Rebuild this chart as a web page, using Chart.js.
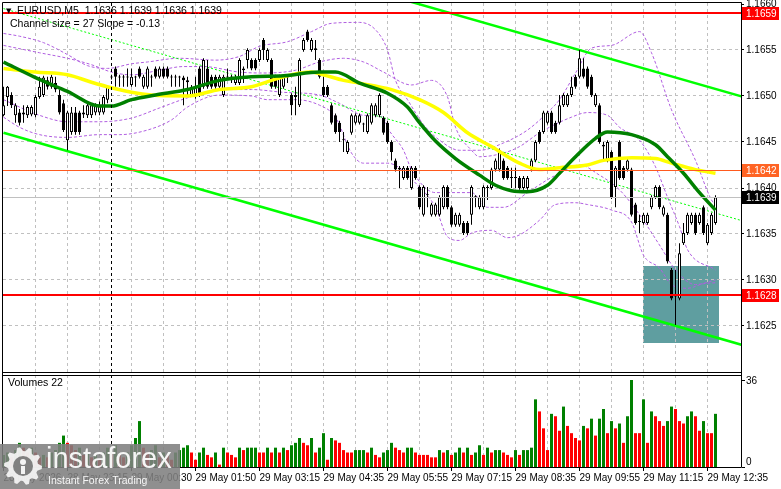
<!DOCTYPE html>
<html>
<head>
<meta charset="utf-8">
<script src="https://cdn.jsdelivr.net/npm/chart.js@4.4.1/dist/chart.umd.min.js"></script>
<style>
  html, body { margin: 0; padding: 0; background: #fff; overflow: hidden; }
  #wrap { position: relative; width: 781px; height: 489px; }
</style>
</head>
<body>
<div id="wrap"><canvas id="chart" width="781" height="489"></canvas></div>
<script>
// EURUSD M5 candles, 179 bars
const opens = [
  1.16479,1.16499,1.16501,1.16479,1.16482,1.16480,1.16479,1.16480,1.16479,1.16499,
  1.16501,1.16517,1.16510,1.16514,1.16501,1.16492,1.16452,1.16461,1.16482,1.16482,
  1.16480,1.16479,1.16479,1.16482,1.16482,1.16482,1.16496,1.16521,1.16530,1.16520,
  1.16521,1.16520,1.16512,1.16521,1.16530,1.16510,1.16510,1.16521,1.16530,1.16521,
  1.16530,1.16530,1.16521,1.16520,1.16521,1.16520,1.16517,1.16501,1.16501,1.16530,
  1.16510,1.16530,1.16521,1.16521,1.16510,1.16501,1.16521,1.16520,1.16514,1.16514,
  1.16530,1.16539,1.16539,1.16539,1.16539,1.16561,1.16539,1.16539,1.16521,1.16501,
  1.16510,1.16520,1.16501,1.16501,1.16490,1.16550,1.16570,1.16550,1.16552,1.16539,
  1.16510,1.16510,1.16490,1.16479,1.16471,1.16453,1.16439,1.16460,1.16471,1.16471,
  1.16470,1.16461,1.16471,1.16479,1.16479,1.16476,1.16471,1.16450,1.16430,1.16422,
  1.16411,1.16422,1.16400,1.16422,1.16401,1.16371,1.16393,1.16371,1.16371,1.16371,
  1.16379,1.16401,1.16379,1.16360,1.16360,1.16362,1.16362,1.16371,1.16391,1.16379,
  1.16379,1.16400,1.16400,1.16420,1.16420,1.16430,1.16422,1.16412,1.16411,1.16411,
  1.16400,1.16400,1.16420,1.16430,1.16461,1.16461,1.16471,1.16482,1.16471,1.16471,
  1.16490,1.16490,1.16501,1.16521,1.16521,1.16530,1.16530,1.16521,1.16490,1.16490,
  1.16447,1.16430,1.16439,1.16401,1.16450,1.16422,1.16420,1.16420,1.16382,1.16364,
  1.16362,1.16362,1.16379,1.16390,1.16401,1.16371,1.16371,1.16311,1.16284,1.16280,
  1.16340,1.16351,1.16362,1.16371,1.16362,1.16379,1.16340,1.16351,1.16362
];
const highs = [
  1.16510,1.16511,1.16504,1.16492,1.16486,1.16490,1.16490,1.16490,1.16501,1.16521,
  1.16522,1.16521,1.16523,1.16521,1.16507,1.16496,1.16484,1.16488,1.16488,1.16484,
  1.16490,1.16492,1.16492,1.16492,1.16494,1.16501,1.16512,1.16523,1.16532,1.16523,
  1.16523,1.16530,1.16530,1.16522,1.16532,1.16523,1.16532,1.16523,1.16532,1.16532,
  1.16532,1.16532,1.16523,1.16523,1.16522,1.16522,1.16521,1.16512,1.16521,1.16532,
  1.16541,1.16539,1.16523,1.16523,1.16523,1.16523,1.16530,1.16523,1.16523,1.16541,
  1.16532,1.16552,1.16541,1.16541,1.16552,1.16563,1.16552,1.16541,1.16523,1.16523,
  1.16523,1.16523,1.16503,1.16510,1.16541,1.16563,1.16572,1.16563,1.16561,1.16541,
  1.16521,1.16512,1.16492,1.16481,1.16473,1.16461,1.16452,1.16481,1.16481,1.16481,
  1.16471,1.16481,1.16492,1.16492,1.16503,1.16478,1.16473,1.16452,1.16432,1.16424,
  1.16424,1.16424,1.16424,1.16424,1.16403,1.16403,1.16401,1.16384,1.16384,1.16392,
  1.16403,1.16403,1.16381,1.16373,1.16373,1.16364,1.16364,1.16403,1.16392,1.16392,
  1.16403,1.16403,1.16422,1.16432,1.16443,1.16432,1.16424,1.16422,1.16422,1.16413,
  1.16413,1.16413,1.16432,1.16452,1.16463,1.16484,1.16484,1.16484,1.16473,1.16501,
  1.16503,1.16503,1.16521,1.16523,1.16550,1.16541,1.16532,1.16523,1.16503,1.16492,
  1.16450,1.16452,1.16441,1.16424,1.16452,1.16424,1.16432,1.16422,1.16384,1.16371,
  1.16373,1.16373,1.16392,1.16403,1.16403,1.16381,1.16373,1.16313,1.16311,1.16340,
  1.16362,1.16373,1.16373,1.16373,1.16373,1.16381,1.16362,1.16373,1.16392
];
const lows = [
  1.16478,1.16489,1.16487,1.16471,1.16468,1.16471,1.16476,1.16478,1.16477,1.16497,
  1.16499,1.16507,1.16508,1.16504,1.16480,1.16461,1.16441,1.16458,1.16458,1.16458,
  1.16476,1.16476,1.16476,1.16479,1.16479,1.16480,1.16492,1.16518,1.16510,1.16510,
  1.16510,1.16510,1.16510,1.16510,1.16519,1.16508,1.16508,1.16510,1.16519,1.16519,
  1.16519,1.16519,1.16510,1.16510,1.16510,1.16490,1.16499,1.16499,1.16497,1.16499,
  1.16508,1.16508,1.16508,1.16508,1.16508,1.16499,1.16518,1.16514,1.16512,1.16512,
  1.16514,1.16530,1.16528,1.16528,1.16537,1.16539,1.16537,1.16508,1.16508,1.16499,
  1.16508,1.16514,1.16479,1.16479,1.16488,1.16548,1.16559,1.16548,1.16539,1.16519,
  1.16499,1.16499,1.16469,1.16459,1.16450,1.16439,1.16437,1.16458,1.16469,1.16469,
  1.16461,1.16459,1.16469,1.16477,1.16477,1.16458,1.16448,1.16430,1.16418,1.16400,
  1.16409,1.16409,1.16398,1.16409,1.16377,1.16369,1.16379,1.16369,1.16369,1.16369,
  1.16377,1.16377,1.16358,1.16358,1.16358,1.16349,1.16349,1.16360,1.16379,1.16377,
  1.16377,1.16387,1.16398,1.16418,1.16418,1.16409,1.16409,1.16400,1.16400,1.16398,
  1.16398,1.16398,1.16418,1.16428,1.16448,1.16459,1.16469,1.16459,1.16459,1.16469,
  1.16488,1.16488,1.16499,1.16508,1.16519,1.16519,1.16508,1.16499,1.16488,1.16448,
  1.16430,1.16428,1.16388,1.16379,1.16409,1.16409,1.16418,1.16369,1.16360,1.16351,
  1.16360,1.16360,1.16377,1.16388,1.16377,1.16369,1.16318,1.16278,1.16251,1.16278,
  1.16338,1.16349,1.16360,1.16349,1.16360,1.16349,1.16338,1.16349,1.16360
];
const closes = [
  1.16490,1.16510,1.16490,1.16490,1.16471,1.16482,1.16488,1.16488,1.16499,1.16510,
  1.16520,1.16510,1.16521,1.16507,1.16482,1.16463,1.16482,1.16482,1.16461,1.16461,
  1.16482,1.16490,1.16490,1.16490,1.16490,1.16499,1.16510,1.16520,1.16521,1.16521,
  1.16520,1.16521,1.16521,1.16520,1.16521,1.16521,1.16530,1.16520,1.16521,1.16530,
  1.16521,1.16521,1.16520,1.16521,1.16520,1.16517,1.16515,1.16510,1.16510,1.16501,
  1.16539,1.16510,1.16510,1.16510,1.16521,1.16521,1.16520,1.16521,1.16521,1.16539,
  1.16528,1.16550,1.16530,1.16530,1.16550,1.16550,1.16550,1.16510,1.16510,1.16521,
  1.16521,1.16521,1.16490,1.16499,1.16539,1.16561,1.16561,1.16561,1.16550,1.16521,
  1.16501,1.16501,1.16471,1.16461,1.16461,1.16452,1.16450,1.16479,1.16479,1.16479,
  1.16469,1.16479,1.16490,1.16490,1.16501,1.16460,1.16450,1.16439,1.16420,1.16420,
  1.16422,1.16411,1.16422,1.16411,1.16379,1.16401,1.16392,1.16382,1.16382,1.16390,
  1.16401,1.16379,1.16360,1.16371,1.16371,1.16351,1.16351,1.16401,1.16390,1.16390,
  1.16401,1.16401,1.16420,1.16430,1.16441,1.16411,1.16411,1.16411,1.16412,1.16400,
  1.16411,1.16411,1.16430,1.16450,1.16450,1.16482,1.16482,1.16461,1.16461,1.16490,
  1.16501,1.16501,1.16510,1.16510,1.16541,1.16521,1.16510,1.16501,1.16501,1.16450,
  1.16445,1.16450,1.16390,1.16422,1.16411,1.16411,1.16430,1.16371,1.16362,1.16363,
  1.16371,1.16371,1.16390,1.16401,1.16379,1.16379,1.16320,1.16280,1.16282,1.16329,
  1.16351,1.16371,1.16371,1.16351,1.16371,1.16351,1.16360,1.16371,1.16390
];
// tick volumes
const volumes = [
  5,6,4,7,10,8,6,8,6,4, 5,4,6,7,10,13,10,9,7,8, 5,6,4,5,3,6,8,6,9,5,
  4,6,9,12,19,8,6,7,9,4, 6,5,3,6,
  7,8,9,6,3,6,8,5,4,6, 1,8,6,5,4,8,7,8,8,8, 6,6,8,6,8,6,8,7,9,10,
  12,10,9,12,6,8,14,3,12,11, 10,7,6,6,7,7,7,6,8,5, 4,6,7,
  10,8,7,6,8,8,6,5,5,5, 4,4,7,6,7,5,6,8,6,8, 5,6,9,5,8,6,7,7,6,5, 4,7,5,7,7,8,
  28,23,16,7,22,21,15,25,17,14, 12,11,17,16,20,13,20,24,14,19,
  16,18,10,21,36,14,14,28,10,23, 21,19,17,19,25,24,19,18,21,23, 21,15,19,14,14,22
];

// indicator lines, [bar, price] samples
const slowMa = [[0,1.16530],[8,1.16526],[16,1.16523],[22,1.16515],[27,1.16509],[32,1.16504],[37,1.16501],[46,1.16500],
  [54,1.16507],[62,1.16510],[65,1.16514],[70,1.16521],[77,1.16526],[80,1.16523],[85,1.16517],[89,1.16514],[97,1.16507],
  [104,1.16496],[110,1.16482],[116,1.16460],[122,1.16445],[129,1.16427],[134,1.16420],[139,1.16422],[146,1.16425],
  [150,1.16430],[157,1.16433],[163,1.16432],[167,1.16427],[173,1.16420],[178,1.16416]];
const fastMa = [[0,1.16537],[8,1.16520],[16,1.16505],[24,1.16489],[27,1.16489],[32,1.16496],[38,1.16501],[46,1.16507],
  [54,1.16517],[62,1.16521],[70,1.16522],[79,1.16526],[83,1.16526],[89,1.16514],[96,1.16503],[101,1.16488],[104,1.16471],
  [108,1.16451],[113,1.16432],[119,1.16414],[123,1.16403],[127,1.16397],[131,1.16396],[136,1.16403],[139,1.16416],
  [143,1.16434],[148,1.16454],[151,1.16461],[157,1.16458],[163,1.16447],[166,1.16434],[170,1.16416],[174,1.16395],[178,1.16376]];
const bandOuterUp = [[0,1.16568],[4,1.16565],[10,1.16558],[16,1.16545],[21,1.16533],[26,1.16530],[32,1.16535],[36,1.16537],
  [44,1.16541],[53,1.16539],[59,1.16543],[64,1.16554],[71,1.16559],[77,1.16570],[82,1.16579],[89,1.16580],[93,1.16572],
  [96,1.16550],[98,1.16517],[101,1.16496],[105,1.16469],[109,1.16452],[114,1.16441],[119,1.16441],[125,1.16449],
  [131,1.16463],[136,1.16482],[139,1.16496],[143,1.16525],[147,1.16552],[152,1.16555],[159,1.16570],[162,1.16547],
  [167,1.16485],[173,1.16430],[177,1.16387],[178,1.16382]];
const bandOuterDown = [[0,1.16477],[4,1.16466],[9,1.16458],[16,1.16455],[24,1.16458],[29,1.16458],[36,1.16463],[42,1.16474],
  [46,1.16488],[54,1.16501],[62,1.16500],[66,1.16496],[73,1.16496],[79,1.16490],[83,1.16477],[87,1.16438],[90,1.16427],
  [96,1.16427],[104,1.16401],[108,1.16379],[111,1.16347],[114,1.16343],[117,1.16351],[122,1.16354],[126,1.16346],
  [129,1.16349],[134,1.16365],[138,1.16382],[143,1.16384],[146,1.16382],[152,1.16376],[157,1.16363],[160,1.16327],
  [164,1.16313],[167,1.16295],[171,1.16291],[175,1.16296],[178,1.16297]];
const bandInnerUp = [[0,1.16555],[9,1.16547],[16,1.16541],[22,1.16534],[27,1.16526],[32,1.16523],[39,1.16528],[45,1.16532],
  [50,1.16532],[59,1.16526],[65,1.16525],[73,1.16528],[79,1.16537],[85,1.16541],[90,1.16537],[95,1.16526],[102,1.16512],
  [107,1.16517],[111,1.16499],[113,1.16466],[117,1.16441],[119,1.16434],[125,1.16438],[129,1.16445],[134,1.16460],
  [142,1.16477],[146,1.16482],[151,1.16479],[154,1.16466],[159,1.16452],[163,1.16423],[166,1.16390],[169,1.16358],
  [171,1.16333],[178,1.16311]];
const bandInnerDown = [[0,1.16496],[9,1.16479],[16,1.16472],[24,1.16472],[32,1.16476],[39,1.16487],[46,1.16498],[54,1.16507],
  [62,1.16507],[70,1.16504],[79,1.16501],[84,1.16492],[90,1.16479],[95,1.16477],[96,1.16466],[100,1.16441],[102,1.16420],
  [108,1.16395],[117,1.16395],[121,1.16379],[125,1.16379],[131,1.16395],[136,1.16409],[139,1.16416],[144,1.16425],
  [149,1.16414],[154,1.16398],[159,1.16371],[164,1.16338],[168,1.16311],[173,1.16295],[178,1.16300]];

// regression channel (ends at bar 0 and bar 185)
const channelBars = [0, 185];
const channelUpper = [1.16729, 1.16499];
const channelMid = [1.16595, 1.16364];
const channelLower = [1.16460, 1.16229];

// horizontal levels and the highlighted zone
const levelPrices = [1.1659, 1.1642, 1.1639, 1.16284];
const zoneBars = [159.9, 178.9];
const zonePrices = [1.16232, 1.16315];
const dayBreakBar = 26.9;

// axes
const priceTicks = [1.1625, 1.1630, 1.1635, 1.1640, 1.1645, 1.1650, 1.1655, 1.1660];
const volumeTicks = [0, 36];
const gridBars = [0,8,16,24,32,40,48,56,64,72,80,88,96,104,112,120,128,136,144,152,160,168,176];
const labelBars = [0,16,32,48,64,80,96,112,128,144,160,176];
const timeLabels = ['28 May 2026','28 May 23:15','29 May 00:30','29 May 01:50','29 May 03:15','29 May 04:35',
  '29 May 05:55','29 May 07:15','29 May 08:35','29 May 09:55','29 May 11:15','29 May 12:35'];

const levelColors = ['#ff0000', '#ff5a1e', '#c0c0c0', '#ff0000'];
const levelWidths = [2, 1, 1, 2];
const levelBoxColors = ['#ff0000', '#ff6424', '#000000', '#ff0000'];
const FAMILY = '"Liberation Sans", Arial, sans-serif';
const panelFloor = 1.1620;

// MT4 volume colouring: up vs previous bar green, down red
const volColors = [];
volumes.forEach((v, i) => {
  if (i === 0) volColors.push('#008000');
  else if (v > volumes[i - 1]) volColors.push('#008000');
  else if (v < volumes[i - 1]) volColors.push('#ff0000');
  else volColors.push(volColors[i - 1]);
});
const bodyColors = opens.map((o, i) => closes[i] >= o ? '#ffffff' : '#000000');

const curve = (pts, color, width, dash, order) => ({
  type: 'line',
  data: pts.map(([b, p]) => ({x: b, y: p})),
  borderColor: color, borderWidth: width, borderDash: dash,
  pointRadius: 0, cubicInterpolationMode: 'monotone', fill: false, order
});
const straight = (vals, color, width, dash) => ({
  type: 'line',
  data: channelBars.map((b, k) => ({x: b, y: vals[k]})),
  borderColor: color, borderWidth: width, borderDash: dash, pointRadius: 0, fill: false, order: 14
});

function drawGear(ctx, cx, cy) {
  ctx.beginPath();
  for (let k = 0; k < 40; k++) {
    const a = k * Math.PI / 20;
    const r = (Math.floor(k / 2) % 2) ? 15 : 19;
    const px = cx + r * Math.cos(a), py = cy + r * Math.sin(a);
    if (k === 0) ctx.moveTo(px, py); else ctx.lineTo(px, py);
  }
  ctx.closePath();
  ctx.fillStyle = 'rgba(255,255,255,0.85)';
  ctx.fill();
  ctx.beginPath(); ctx.arc(cx, cy, 10, 0, Math.PI * 2);
  ctx.fillStyle = 'rgba(128,128,128,1)'; ctx.fill();
  ctx.beginPath(); ctx.arc(cx, cy - 4, 3, 0, Math.PI * 2);
  ctx.fillStyle = 'rgba(255,255,255,0.9)'; ctx.fill();
  ctx.fillRect(cx - 2, cy, 4, 8);
}

const overlay = {
  id: 'overlay',
  beforeDraw(chart) {
    const {ctx, scales: {x, y}} = chart;
    const l = Math.round(x.getPixelForValue(zoneBars[0]));
    const r = Math.round(x.getPixelForValue(zoneBars[1]));
    const t = Math.round(y.getPixelForValue(zonePrices[1]));
    const b = Math.round(y.getPixelForValue(zonePrices[0]));
    ctx.save();
    ctx.fillStyle = '#5f9ea0';
    ctx.fillRect(l, t, r - l, b - t);
    ctx.restore();
  },
  afterDatasetsDraw(chart) {
    const {ctx, chartArea: area, scales: {x, y}} = chart;
    const L = area.left, R = area.right, T = area.top, B = area.bottom;
    const split = Math.round(y.getPixelForValue(panelFloor));
    ctx.save();
    // day separator
    const sx = Math.round(x.getPixelForValue(dayBreakBar)) + 0.5;
    ctx.strokeStyle = '#000'; ctx.lineWidth = 1;
    ctx.setLineDash([3, 3]);
    ctx.beginPath(); ctx.moveTo(sx, T); ctx.lineTo(sx, B); ctx.stroke();
    ctx.setLineDash([]);
    // horizontal lines
    levelPrices.forEach((p, k) => {
      const w = levelWidths[k];
      let py = Math.round(y.getPixelForValue(p));
      if (w % 2) py += 0.5;
      ctx.strokeStyle = levelColors[k]; ctx.lineWidth = w;
      ctx.beginPath(); ctx.moveTo(L, py); ctx.lineTo(R, py); ctx.stroke();
    });
    // gap between the two windows and frame
    ctx.fillStyle = '#fff';
    ctx.fillRect(0, split + 1, R + 1, 2);
    ctx.strokeStyle = '#000'; ctx.lineWidth = 1;
    ctx.beginPath();
    ctx.moveTo(L - 0.5, T - 0.5); ctx.lineTo(R + 0.5, T - 0.5);
    ctx.moveTo(L - 0.5, T - 0.5); ctx.lineTo(L - 0.5, B + 0.5);
    ctx.moveTo(R + 0.5, T - 0.5); ctx.lineTo(R + 0.5, B + 0.5);
    ctx.moveTo(L - 0.5, B + 0.5); ctx.lineTo(R + 0.5, B + 0.5);
    ctx.moveTo(L - 0.5, split + 0.5); ctx.lineTo(R + 0.5, split + 0.5);
    ctx.moveTo(L - 0.5, split + 3.5); ctx.lineTo(R + 0.5, split + 3.5);
    ctx.stroke();
    ctx.restore();
  },
  afterDraw(chart) {
    const {ctx, chartArea: area, scales: {y, yv}} = chart;
    const R = area.right;
    ctx.save();
    ctx.font = '10px ' + FAMILY;
    ctx.textBaseline = 'middle';
    // price labels for the horizontal lines
    levelPrices.forEach((p, k) => {
      const py = Math.round(y.getPixelForValue(p));
      ctx.fillStyle = levelBoxColors[k];
      ctx.fillRect(R + 1, py - 6, 37, 13);
      ctx.fillStyle = '#fff';
      ctx.fillText(p.toFixed(4), R + 5, py + 1);
    });
    // volume scale labels
    ctx.fillStyle = '#000';
    volumeTicks.forEach(v => {
      const py = Math.round(yv.getPixelForValue(v));
      ctx.fillRect(R + 1, py, 3, 1);
      ctx.fillText(String(v), R + 5, v === 0 ? py - 5 : py + 1);
    });
    // window captions
    ctx.font = '7px "DejaVu Sans"';
    ctx.fillText('\u25BC', 6, 11);
    ctx.font = '10.5px ' + FAMILY;
    ctx.fillText('EURUSD,M5  1.1636 1.1639 1.1636 1.1639', 17, 11);
    ctx.fillText('Channel size = 27 Slope = -0.13', 10, 24);
    ctx.fillText('Volumes 22', 8, Math.round(yv.getPixelForValue(36)) + 3);
    // broker watermark
    ctx.fillStyle = 'rgba(128,128,128,0.88)';
    ctx.fillRect(0, 444, 180, 45);
    drawGear(ctx, 23, 466);
    ctx.fillStyle = 'rgba(255,255,255,0.92)';
    ctx.textBaseline = 'alphabetic';
    ctx.font = '29px ' + FAMILY;
    ctx.fillText('instaforex', 46, 468);
    ctx.font = '10.5px ' + FAMILY;
    ctx.fillText('Instant Forex Trading', 48, 484);
    ctx.restore();
  }
};

const ctx = document.getElementById('chart').getContext('2d');
const chart = new Chart(ctx, {
  type: 'line',
  data: {
    datasets: [
      {
        type: 'bar', yAxisID: 'yv',
        data: volumes.map((v, i) => ({x: i, y: v})),
        backgroundColor: volColors, barThickness: 3, grouped: false, inflateAmount: 0, borderWidth: 0, order: 20
      },
      curve(bandOuterUp, '#b05ee0', 1, [3, 2], 15),
      curve(bandOuterDown, '#b05ee0', 1, [3, 2], 15),
      curve(bandInnerUp, '#b05ee0', 1, [3, 2], 15),
      curve(bandInnerDown, '#b05ee0', 1, [3, 2], 15),
      straight(channelUpper, '#00ff00', 2.5, []),
      straight(channelLower, '#00ff00', 2.5, []),
      straight(channelMid, '#00ff00', 1, [2, 2]),
      {
        type: 'bar',
        data: highs.map((h, i) => ({x: i, y: [lows[i], h]})),
        backgroundColor: '#000', barThickness: 1, grouped: false, inflateAmount: 0, borderWidth: 0, order: 12
      },
      {
        type: 'bar',
        data: opens.map((o, i) => ({x: i, y: [o, closes[i]]})),
        backgroundColor: bodyColors, borderColor: '#000', borderWidth: 1, borderSkipped: false,
        barThickness: 3, grouped: false, inflateAmount: 0, minBarLength: 1, order: 11
      },
      curve(slowMa, '#ffff00', 3.5, [], 6),
      curve(fastMa, '#008000', 3.5, [], 5)
    ]
  },
  options: {
    responsive: false,
    animation: false,
    devicePixelRatio: 1,
    events: [],
    layout: {padding: {top: 3, left: 3, right: 0, bottom: 0}},
    plugins: {legend: {display: false}, tooltip: {enabled: false}},
    scales: {
      x: {
        type: 'linear', min: -0.125, max: 184.375, offset: false,
        afterBuildTicks: s => { s.ticks = gridBars.map(v => ({value: v})); },
        afterFit: s => { s.height = 22; s.paddingLeft = 0; s.paddingRight = 0; },
        ticks: {
          autoSkip: false, maxRotation: 0, minRotation: 0, align: 'start', padding: 1,
          color: '#000', font: {family: FAMILY, size: 10},
          callback: v => { const k = labelBars.indexOf(v); return k >= 0 ? timeLabels[k] : ''; }
        },
        grid: {
          color: c => (c.tick && c.tick.value > 0) ? '#c0c0c0' : 'rgba(0,0,0,0)',
          tickColor: c => (c.tick && labelBars.includes(c.tick.value)) ? '#000' : 'rgba(0,0,0,0)',
          tickLength: 4, offset: false
        },
        border: {display: false, dash: [3, 3]}
      },
      y: {
        type: 'linear', position: 'right',
        min: 1.1660 - 463 / 92000, max: 1.1660 + 1 / 92000,
        afterBuildTicks: s => { s.ticks = priceTicks.map(v => ({value: v})); },
        afterFit: s => { s.width = 40; s.paddingTop = 0; s.paddingBottom = 0; },
        ticks: {
          autoSkip: false, padding: 2, color: '#000', font: {family: FAMILY, size: 10},
          callback: v => v.toFixed(4)
        },
        grid: {
          color: c => (c.tick && c.tick.value < 1.1658) ? '#c0c0c0' : 'rgba(0,0,0,0)',
          tickColor: '#000', tickLength: 3
        },
        border: {display: false, dash: [3, 3]}
      },
      yv: {type: 'linear', display: false, min: 0, max: 192}
    }
  },
  plugins: [overlay]
});
</script>
</body>
</html>
